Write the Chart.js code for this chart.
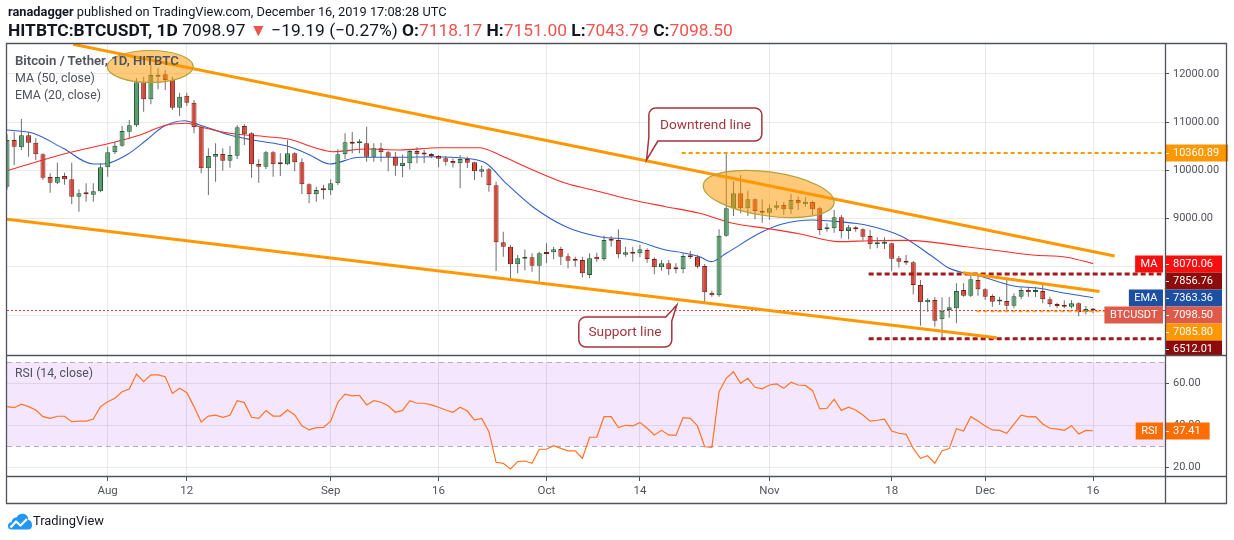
<!DOCTYPE html>
<html>
<head>
<meta charset="utf-8">
<title>Bitcoin / Tether, 1D, HITBTC</title>
<script src="https://cdn.jsdelivr.net/npm/chart.js@4/dist/chart.umd.min.js"></script>
<style>
html,body{margin:0;padding:0;background:#fff;}
#wrap{position:relative;width:1234px;height:540px;overflow:hidden;background:#fff;font-family:Roboto,'Noto Sans',sans-serif;color:#131722;}
canvas{position:absolute;left:0;}
#cMain{top:0;}
#cRsi{top:355px;}
.t{position:absolute;white-space:nowrap;line-height:1.2;transform:translateY(-50%);}
.c{transform:translate(-50%,-50%);}
.r{color:#ef5350;}
.lg{color:#50535e;font-size:13px;}
.co{color:#a3363c;font-size:14px;}
svg{position:absolute;}
</style>
</head>
<body>
<div id="wrap">
<canvas id="cMain" width="1234" height="356"></canvas>
<canvas id="cRsi" width="1234" height="185"></canvas>
<svg style="left:0;top:0" width="1234" height="540">
 <g stroke="#50535e" stroke-width="1.3">
  <line x1="6" y1="43.5" x2="1227" y2="43.5"/>
  <line x1="6.5" y1="43" x2="6.5" y2="504"/>
  <line x1="1226.5" y1="43" x2="1226.5" y2="504"/>
  <line x1="1165.5" y1="43" x2="1165.5" y2="504"/>
  <line x1="6" y1="355.5" x2="1227" y2="355.5"/>
  <line x1="6" y1="476.5" x2="1227" y2="476.5"/>
  <line x1="6" y1="503.5" x2="1227" y2="503.5"/>
 </g>
</svg>
<svg style="left:8px;top:512px" width="24" height="18" viewBox="0 0 24 18">
 <path d="M3.5 17.5 Q0 17.5 0 14 Q0 10.5 3.5 10.2 Q4 5.5 8.8 5.2 Q10.8 1 15.5 1.8 Q20.2 2.8 20.3 7.8 Q24 8.8 24 13 Q24 17.5 19.8 17.5 Z" fill="#2196f3"/>
 <polyline points="2.5,15.5 8,9.5 12.5,13.5 19,7" stroke="#fff" stroke-width="2.2" fill="none" stroke-linejoin="round"/>
</svg>
<div class="t" id="h1" style="left:8px;top:12px;font-size:14px"><b>ranadagger</b> published on TradingView.com, December 16, 2019 17:08:28 UTC</div>
<div class="t" id="h2" style="left:8px;top:30px;font-size:14px"><b>HITBTC:BTCUSDT, 1D</b> 7098.97 <span class="r">▼</span> −19.19 (−0.27%) <b>O:</b><span class="r">7118.17</span> <b>H:</b><span class="r">7151.00</span> <b>L:</b><span class="r">7043.79</span> <b>C:</b><span class="r">7098.50</span></div>
<div class="t lg" id="lg1" style="left:15px;top:61px;font-weight:600">Bitcoin / Tether, 1D, HITBTC</div>
<div class="t lg" id="lg2" style="left:15px;top:78px">MA (50, close)</div>
<div class="t lg" id="lg3" style="left:15px;top:95px">EMA (20, close)</div>
<div class="t lg" id="lg4" style="left:15px;top:373px">RSI (14, close)</div>
<div class="t co c" id="co1" style="left:705.5px;top:124px">Downtrend line</div>
<div class="t co c" id="co2" style="left:625px;top:331px">Support line</div>
<div class="t" id="logo" style="left:33px;top:521px;font-size:14px;color:#131722">TradingView</div>
</div>
<script>
// ---------- DATA (day index 0 = 2019-07-18, daily candles) ----------
const tickIdx = [14, 25, 45, 60, 75, 88, 106, 123, 136, 151];
const tickLabels = ['Aug', '12', 'Sep', '16', 'Oct', '14', 'Nov', '18', 'Dec', '16'];
const priceTicks = [7000, 8000, 9000, 10000, 11000, 12000];
const rsiTicks = [20, 40, 60];

const opens = [9662,10629,10478,10726,10573,10333,9862,9745,9884,9815,
9455,9546,9497,9567,10064,10374,10511,10801,10933,11823,
11471,11940,11989,11871,11297,11546,11401,10891,10043,10283,
10339,10200,10304,10918,10767,10132,10076,10374,10159,10126,
10353,10167,9712,9505,9608,9587,9733,10333,10587,10560,
10560,10283,10457,10374,10283,10090,10146,10401,10340,10333,
10298,10250,10194,10146,10235,10167,9973,10022,9691,8511,
8420,8056,8170,8200,8027,8283,8304,8373,8221,8160,
8145,7834,8213,8160,8573,8560,8255,8304,8283,8352,
8165,7994,8076,7973,7952,8234,8213,8020,7468,7414,
8648,9215,9525,9215,9401,9166,9124,9228,9283,9194,
9387,9298,9345,9215,8780,8801,9028,8745,8822,8780,
8641,8470,8482,8490,8180,8131,8097,7627,7269,7317,
6917,7110,7145,7524,7406,7731,7538,7400,7285,7296,
7200,7385,7524,7482,7503,7331,7234,7213,7178,7248,
7075,7118.17];
const highs = [10750,10800,11063,10800,10664,10353,9939,10159,9950,10159,
9608,9733,9733,10146,10490,10594,10918,11043,11906,11939,
12181,12113,12078,11940,11608,11608,11457,10940,10457,10560,
10457,10505,10933,10954,10788,10229,10401,10401,10353,10629,
10374,10250,9733,9662,9700,9815,10436,10767,10795,10650,
10905,10560,10570,10400,10380,10330,10420,10480,10420,10360,
10318,10300,10250,10318,10280,10180,10100,10050,9766,8731,
8455,8248,8360,8283,8317,8490,8420,8420,8283,8213,
8213,8283,8296,8648,8641,8780,8420,8420,8455,8387,
8200,8145,8145,8076,8283,8331,8248,8062,7509,8780,
10353,9780,9904,9580,9420,9401,9290,9366,9352,9511,
9456,9442,9373,9248,8904,9180,9076,8869,8848,8800,
8766,8614,8614,8500,8228,8248,8124,7731,7352,7380,
7373,7380,7662,7662,7855,7835,7559,7434,7385,7766,
7455,7580,7592,7592,7662,7385,7261,7310,7310,7270,
7193,7151.00];
const lows = [9600,10110,10420,10283,10215,9801,9538,9720,9700,9298,
9145,9352,9352,9546,9870,10339,10490,10664,10900,11214,
11367,11678,11664,11250,11125,11332,10767,9940,9490,9766,
9993,10055,10235,10525,9848,9745,10029,9870,9883,10111,
9980,9510,9318,9352,9400,9490,9697,10235,10353,10353,
10180,10180,10180,9980,9890,9860,10020,10146,10150,10250,
10064,10100,10060,9629,10050,9800,9860,9560,7917,8213,
7745,7869,7930,7902,7696,8076,8160,8041,7973,8006,
7786,7766,8110,8130,8420,8180,8213,8110,8200,8089,
7850,7924,7835,7869,7869,8165,7973,7269,7385,7385,
8627,9055,9111,9055,8987,8917,8980,9180,9076,9097,
9180,9248,9076,8662,8731,8710,8594,8573,8731,8544,
8372,8387,8372,7910,7987,8041,7435,6785,7075,6765,
6524,6950,6834,7385,7380,7406,7317,7178,7213,7090,
7145,7331,7385,7380,7248,7178,7145,7145,7145,6980,
7020,7043.79];
const closes = [10629,10490,10726,10573,10333,9848,9745,9862,9815,9455,
9525,9505,9567,10064,10374,10511,10815,10933,11823,11471,
11974,11961,11871,11297,11525,11401,10891,10043,10298,10339,
10200,10318,10891,10747,10126,10076,10374,10126,10126,10353,
10167,9712,9505,9594,9587,9733,10333,10581,10553,10580,
10283,10457,10374,10283,10097,10160,10401,10333,10330,10298,
10242,10180,10146,10235,10159,9980,10022,9691,8511,8420,
8056,8180,8213,8027,8283,8270,8366,8213,8130,8130,
7869,8180,8160,8560,8545,8263,8304,8276,8366,8165,
7994,8076,7952,7952,8228,8200,8006,7476,7414,8648,
9215,9525,9215,9401,9159,9124,9215,9277,9194,9387,
9318,9352,9194,8766,8813,9028,8745,8821,8780,8627,
8470,8503,8496,8172,8110,8089,7627,7269,7323,6888,
7095,7166,7503,7406,7745,7538,7385,7282,7300,7200,
7393,7524,7476,7510,7331,7228,7193,7178,7248,7062,
7130,7098.50];

// MA (50)
const maIdx = [0,8.3,14.3,18.5,22.2,25,26.8,31,36.1,39.3,43,45.3,50,54.6,60.1,65.7,68.5,73.1,77.7,82.4,87,91.6,96.3,100.9,105.5,110.3,115.7,120,125,133.4,142.6,147.3,151];
const maVal = [9993,10353,10560,10732,10939,10974,10904,10767,10697,10643,10457,10387,10442,10422,10469,10469,10318,10008,9732,9559,9387,9248,9111,8904,8801,8683,8524,8544,8550,8420,8248,8201,8070];
// EMA (20)
const emaIdx = [0,3.65,7.8,12,13.4,16.6,19.4,21.7,24.7,26.8,31,34.2,39.3,42.1,44.9,49,54.6,59.2,63.8,66.6,69.4,73.1,77.7,82.4,87,91.6,93.9,96.3,97.9,100,104.6,107.8,112,115.7,119.4,124.5,128.7,131,135.6,139.8,143.5,147.2,151];
const emaVal = [10836,10767,10457,10132,10132,10318,10629,10904,11028,10939,10732,10629,10490,10318,10132,10271,10271,10283,10250,10146,9732,9248,8834,8627,8559,8352,8296,8213,8110,8283,8697,8890,8973,8938,8869,8627,8213,7973,7799,7613,7559,7455,7363];
// RSI (14)
const rsi = [48.9,48.4,50.1,48.9,47.3,44.1,43.3,44.3,44.3,41.7,
42,42,43,48.9,51.2,52.9,56,57.3,64.4,60.8,
64,64,63.1,55.2,57.6,55.5,48.9,41.6,44.4,44.8,
43.8,44.8,51.7,50.8,43.8,43.3,47,44.4,44.4,47.3,
44.9,39.8,37.8,38.9,39,42,51,54.8,54,54.3,
49.7,51.7,51,49.3,46.2,47.1,51.7,50.5,50.5,49.7,
48.6,47.3,46.2,48.6,46.8,42.5,43.3,37,22.4,21.9,
19.2,22.7,23,21.9,28.6,28.6,30.3,29,27.8,27.8,
24.3,34.3,34.3,44.1,44.1,38.9,40,39.7,41.4,38.6,
35.4,37.6,35.4,35.2,43.6,43.3,39.7,29.8,29.5,56,
62.4,65.5,60,62.4,58.1,57.4,59.2,59.7,57.6,60.5,
59.2,59,56.5,47.8,48.1,52.4,47.1,48.6,47.3,44.9,
42,42.4,42.9,37.3,36.2,35.7,29,24.3,25.5,21.9,
27.9,28.9,38.4,37.3,44.1,42,39.7,37.8,37.6,36.2,
40.6,44.8,44,44.1,40.6,38.6,38.2,37.6,39.8,35.9,
37.6,37.41];

// Drawn trend lines (day index, price)
const downtrendIdx = [9.2, 154.0], downtrendVal = [12610, 8228];
const supportIdx = [0, 137.6], supportVal = [8987, 6536];
const innerIdx = [132.9, 151.9], innerVal = [7882, 7493];
// Horizontal levels
const levelResist = 10360.89, levelResistFrom = 93.8;
const levelHigh = 7856.76, levelLow = 6512.01, levelBoxFrom = 119.8, levelBoxTo = 160.5;
const levelSupport = 7085.80, levelSupportFrom = 134.8;
const lastPrice = 7098.50, maLast = 8070.06, emaLast = 7363.36, rsiLast = 37.41;
const rsiUpper = 70, rsiLower = 30;

// ---------- CHART ----------
const FONT = "Roboto, 'Noto Sans', sans-serif";
Chart.defaults.font.family = FONT;
Chart.defaults.font.size = 11;
Chart.defaults.color = '#50535e';
const GRID = 'rgba(0,0,0,0.085)';
const XMAX = 161;

const N = closes.length;
const bodies = [], wicks = [], fills = [], strokes = [];
for (let i = 0; i < N; i++) {
  const up = closes[i] >= opens[i];
  bodies.push({x: i, y: [opens[i], closes[i]]});
  wicks.push({x: i, y: [lows[i], highs[i]]});
  fills.push(up ? '#5b9c6d' : '#d2473a');
  strokes.push(up ? '#21593a' : '#7c1e15');
}
const pts = (xs, ys) => xs.map((x, i) => ({x: x, y: ys[i]}));
const hline = (v, from, to) => [{x: from, y: v}, {x: to, y: v}];
const lineDs = (data, color, width, dash, order, extra) => Object.assign({
  type: 'line', data: data, borderColor: color, borderWidth: width, borderDash: dash || [],
  pointRadius: 0, fill: false, tension: 0, clip: 0, order: order
}, extra || {});

const ellipses = [
  {cx: 19.92, cy: 12150, rx: 43, ry: 16, rot: 0},
  {cx: 105.9, cy: 9511, rx: 66, ry: 22, rot: 8}
];
const callouts = [
  {bx: 89.24, by: 11291, w: 113, h: 33, tipX: 88.92, tipY: 10215, side: 'bl'},
  {bx: 79.5, by: 6965, w: 93, h: 30, tipX: 93.13, tipY: 7213, side: 'tr'}
];

function tagBox(ctx, left, y, text, bg, tag) {
  ctx.font = '11px ' + FONT;
  ctx.textBaseline = 'middle';
  ctx.textAlign = 'left';
  const yy = Math.round(y);
  const tw = ctx.measureText(text).width;
  ctx.fillStyle = bg;
  ctx.fillRect(left, yy - 8.5, tw + 17, 17);
  ctx.strokeStyle = '#fff'; ctx.lineWidth = 1;
  ctx.beginPath(); ctx.moveTo(left, yy + 0.5); ctx.lineTo(left + 4, yy + 0.5); ctx.stroke();
  ctx.fillStyle = '#fff';
  ctx.fillText(text, left + 8, yy + 0.5);
  if (tag) {
    const gw = ctx.measureText(tag).width + 11;
    ctx.fillStyle = bg;
    ctx.fillRect(left - 2 - gw, yy - 8.5, gw, 17);
    ctx.fillStyle = '#fff';
    ctx.fillText(tag, left - 2 - gw + 5.5, yy + 0.5);
  }
}

const mainDecor = {
  id: 'mainDecor',
  afterDatasetsDraw(chart) {
    const {ctx, chartArea: a, scales: {x, y}} = chart;
    ctx.save();
    ctx.beginPath(); ctx.rect(a.left, a.top, a.right - a.left, a.bottom - a.top); ctx.clip();
    ellipses.forEach(e => {
      ctx.beginPath();
      ctx.ellipse(x.getPixelForValue(e.cx), y.getPixelForValue(e.cy), e.rx, e.ry, e.rot * Math.PI / 180, 0, 2 * Math.PI);
      ctx.fillStyle = 'rgba(255,152,0,0.52)';
      ctx.fill();
      ctx.strokeStyle = '#b7a037'; ctx.lineWidth = 1.2; ctx.stroke();
    });
    callouts.forEach(c => {
      const L = x.getPixelForValue(c.bx), T = y.getPixelForValue(c.by);
      const R = L + c.w, B = T + c.h, r = 7;
      const tx = x.getPixelForValue(c.tipX), ty = y.getPixelForValue(c.tipY);
      ctx.beginPath();
      if (c.side === 'bl') {
        ctx.moveTo(L + r, T); ctx.lineTo(R - r, T); ctx.arcTo(R, T, R, T + r, r);
        ctx.lineTo(R, B - r); ctx.arcTo(R, B, R - r, B, r);
        ctx.lineTo(L + 9, B); ctx.lineTo(tx, ty); ctx.lineTo(L, B - 4);
        ctx.lineTo(L, T + r); ctx.arcTo(L, T, L + r, T, r);
      } else {
        ctx.moveTo(L + r, T); ctx.lineTo(R - 6, T); ctx.lineTo(tx, ty); ctx.lineTo(R, T + 4);
        ctx.lineTo(R, B - r); ctx.arcTo(R, B, R - r, B, r);
        ctx.lineTo(L + r, B); ctx.arcTo(L, B, L, B - r, r);
        ctx.lineTo(L, T + r); ctx.arcTo(L, T, L + r, T, r);
      }
      ctx.closePath();
      ctx.fillStyle = '#fff'; ctx.fill();
      ctx.strokeStyle = '#a3363c'; ctx.lineWidth = 1.5; ctx.stroke();
    });
    ctx.restore();
  },
  afterDraw(chart) {
    const {ctx, scales: {y}} = chart;
    const tags = [
      {v: levelResist, bg: '#ff9800'},
      {v: maLast, bg: '#f80f0f', tag: 'MA'},
      {v: levelHigh, bg: '#8c0b0b'},
      {v: emaLast, bg: '#1d4fa3', tag: 'EMA'},
      {v: lastPrice, bg: '#de5a4a', tag: 'BTCUSDT'},
      {v: levelSupport, bg: '#ff9800'},
      {v: levelLow, bg: '#8c0b0b'}
    ].map(t => Object.assign(t, {py: y.getPixelForValue(t.v)})).sort((a, b) => a.py - b.py);
    let prev = -1e9;
    ctx.save();
    tags.forEach(t => {
      const py = Math.max(t.py, prev + 17);
      prev = py;
      tagBox(ctx, y.left, py, t.v.toFixed(2), t.bg, t.tag);
    });
    ctx.restore();
  }
};

new Chart(document.getElementById('cMain'), {
  type: 'bar',
  data: {
    datasets: [
      lineDs(pts(maIdx, maVal), '#ff2a2a', 1.1, null, 6, {cubicInterpolationMode: 'monotone', label: 'MA (50, close)'}),
      lineDs(pts(emaIdx, emaVal), '#2f62c6', 1.1, null, 6, {cubicInterpolationMode: 'monotone', label: 'EMA (20, close)'}),
      {label: 'wick', data: wicks, backgroundColor: '#6e6e6e', barThickness: 1, grouped: false, clip: 0, order: 5, inflateAmount: 0},
      {label: 'Bitcoin / Tether', data: bodies, backgroundColor: fills, borderColor: strokes, borderWidth: 1,
       borderSkipped: false, barThickness: 5, grouped: false, clip: 0, order: 4, minBarLength: 2, inflateAmount: 0},
      lineDs(hline(lastPrice, 0, XMAX), '#e53935', 1, [2, 2], 3),
      lineDs(hline(levelResist, levelResistFrom, XMAX), '#ff9800', 2, [4, 3], 3),
      lineDs(hline(levelSupport, levelSupportFrom, XMAX), '#ffa726', 2, [4, 3], 3),
      lineDs(hline(levelHigh, levelBoxFrom, levelBoxTo), '#a31a1a', 3, [5, 3], 3),
      lineDs(hline(levelLow, levelBoxFrom, levelBoxTo), '#a31a1a', 3, [5, 3], 3),
      lineDs(pts(downtrendIdx, downtrendVal), '#ff9800', 3, null, 2),
      lineDs(pts(supportIdx, supportVal), '#ff9800', 3, null, 2),
      lineDs(pts(innerIdx, innerVal), '#ff9800', 3, null, 2)
    ]
  },
  options: {
    responsive: false, maintainAspectRatio: false, animation: false, events: [],
    layout: {padding: {top: 44, left: 7, right: 0, bottom: 1}},
    plugins: {legend: {display: false}, tooltip: {enabled: false}},
    scales: {
      x: {
        type: 'linear', min: 0, max: XMAX, offset: false,
        afterBuildTicks: s => { s.ticks = tickIdx.map(v => ({value: v})); },
        ticks: {display: false},
        grid: {color: GRID, drawTicks: false, offset: false},
        border: {display: false},
        afterFit: s => { s.height = 0; s.paddingLeft = 0; s.paddingRight = 0; }
      },
      y: {
        position: 'right', min: 6178, max: 12616,
        afterBuildTicks: s => { s.ticks = priceTicks.map(v => ({value: v})); },
        ticks: {callback: v => v.toFixed(2), padding: 4, color: '#50535e', font: {size: 11}},
        grid: {color: GRID, tickLength: 4, tickColor: '#50535e'},
        border: {display: true, color: '#50535e'},
        afterFit: s => { s.width = 69; s.paddingTop = 0; s.paddingBottom = 0; }
      }
    }
  },
  plugins: [mainDecor]
});

const rsiDecor = {
  id: 'rsiDecor',
  beforeDraw(chart) {
    const {ctx, chartArea: a, scales: {y}} = chart;
    const y1 = y.getPixelForValue(rsiUpper), y2 = y.getPixelForValue(rsiLower);
    ctx.save();
    ctx.fillStyle = '#f3e6fd';
    ctx.fillRect(a.left, y1, a.right - a.left, y2 - y1);
    ctx.restore();
  },
  beforeDatasetsDraw(chart) {
    const {ctx, chartArea: a, scales: {y}} = chart;
    ctx.save();
    ctx.strokeStyle = '#b5adbf'; ctx.lineWidth = 1; ctx.setLineDash([5, 4]);
    [rsiUpper, rsiLower].forEach(v => {
      const py = Math.round(y.getPixelForValue(v)) + 0.5;
      ctx.beginPath(); ctx.moveTo(a.left, py); ctx.lineTo(a.right, py); ctx.stroke();
    });
    ctx.restore();
  },
  afterDraw(chart) {
    const {ctx, scales: {y}} = chart;
    ctx.save();
    tagBox(ctx, y.left, y.getPixelForValue(rsiLast), rsiLast.toFixed(2), '#ff6d00', 'RSI');
    ctx.restore();
  }
};

new Chart(document.getElementById('cRsi'), {
  type: 'line',
  data: {
    datasets: [lineDs(pts(rsi.map((v, i) => i), rsi), '#ff7426', 1.2, null, 1, {label: 'RSI (14, close)'})]
  },
  options: {
    responsive: false, maintainAspectRatio: false, animation: false, events: [],
    layout: {padding: {top: 1, left: 7, right: 0, bottom: 0}},
    plugins: {legend: {display: false}, tooltip: {enabled: false}},
    scales: {
      x: {
        type: 'linear', min: 0, max: XMAX, offset: false,
        afterBuildTicks: s => { s.ticks = tickIdx.map(v => ({value: v})); },
        ticks: {callback: v => tickLabels[tickIdx.indexOf(v)], autoSkip: false, maxRotation: 0, padding: 3, color: '#50535e', font: {size: 11.5}},
        grid: {color: GRID, tickLength: 5, tickColor: '#50535e'},
        border: {display: true, color: '#50535e'},
        afterFit: s => { s.height = 64; s.paddingLeft = 0; s.paddingRight = 0; }
      },
      y: {
        position: 'right', min: 15.86, max: 73.0,
        afterBuildTicks: s => { s.ticks = rsiTicks.map(v => ({value: v})); },
        ticks: {callback: v => v.toFixed(2), padding: 4, color: '#50535e', font: {size: 11}},
        grid: {color: 'rgba(60,40,90,0.10)', tickLength: 4, tickColor: '#50535e'},
        border: {display: true, color: '#50535e'},
        afterFit: s => { s.width = 69; s.paddingTop = 0; s.paddingBottom = 0; }
      }
    }
  },
  plugins: [rsiDecor]
});

// fit overlay text widths to the reference
function fit(id, w) {
  const el = document.getElementById(id);
  const cur = el.getBoundingClientRect().width;
  const fs = parseFloat(getComputedStyle(el).fontSize);
  if (cur > 0) el.style.fontSize = (fs * w / cur).toFixed(2) + 'px';
}
[['h1', 439], ['h2', 725], ['lg1', 164], ['lg2', 80], ['lg3', 86], ['lg4', 78], ['co1', 91], ['co2', 73], ['logo', 71]].forEach(p => fit(p[0], p[1]));
</script>
</body>
</html>
